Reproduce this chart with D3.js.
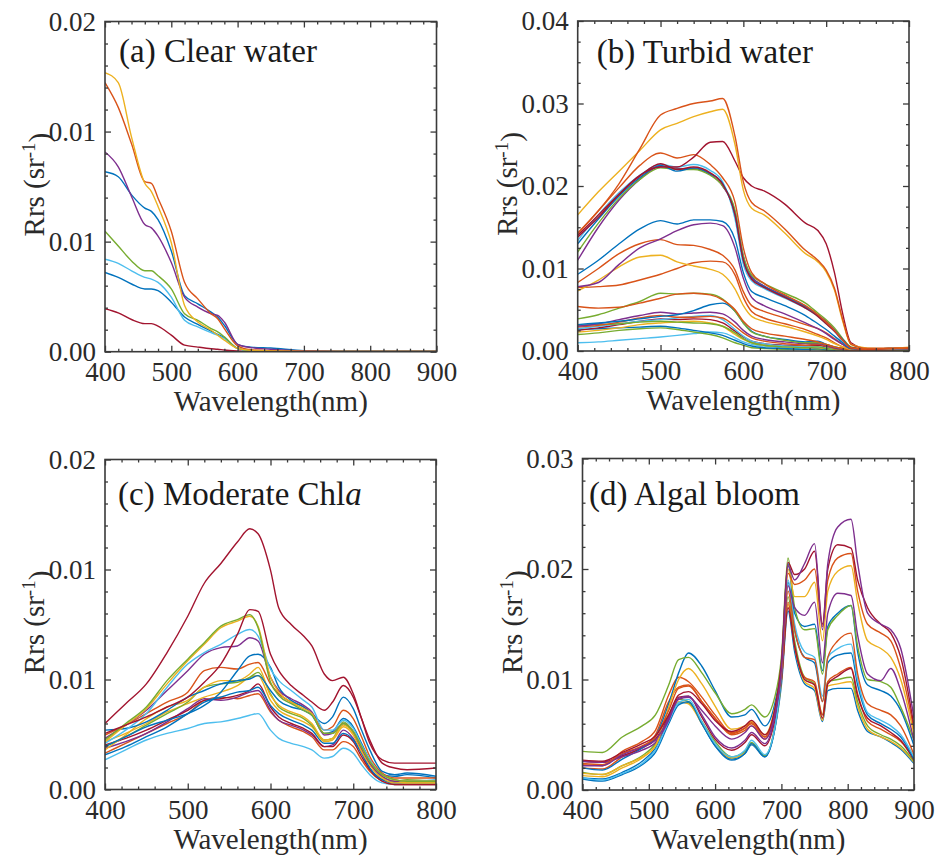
<!DOCTYPE html>
<html>
<head>
<meta charset="utf-8">
<script src="https://cdn.jsdelivr.net/npm/d3@7"></script>
<style>
  body { margin: 0; background: #fff; }
  svg { font-family: "Liberation Serif", "Times New Roman", serif; }
  .tick text { fill: #2a2a2a; font-size: 27px; }
  .tick line { stroke: #3a3a3a; stroke-width: 1.3; }
</style>
</head>
<body>
<svg id="chart"></svg>
<script>
// Rrs values are in units of 10^-3 sr^-1

// MATLAB default line colours
const cBlue = "#0072BD", cOrange = "#D95319", cYellow = "#EDB120", cPurple = "#7E2F8E",
      cGreen = "#77AC30", cCyan = "#4DBEEE", cCrimson = "#A2142F";

// (a) Clear water
const wlA = [400,420,440,460,470,480,500,520,540,560,570,580,600,620,650,700,750,800,850,900];
const colA = [cCrimson, cBlue, cCyan, cGreen, cBlue, cPurple, cOrange, cYellow];
const rrsA = [
  [2.6,2.35,1.95,1.7,1.7,1.55,1.0,0.4,0.28,0.18,0.15,0.1,0.05,0.03,0.02,0.01,0.01,0.01,0.01,0.01],
  [4.8,4.5,4.1,3.8,3.8,3.7,3.0,2.1,1.65,1.25,1.05,0.85,0.2,0.06,0.03,0.02,0.01,0.01,0.01,0.02],
  [5.6,5.35,4.9,4.5,4.4,4.2,3.3,1.9,1.5,1.15,1.0,0.8,0.2,0.05,0.03,0.01,0.01,0.01,0.01,0.01],
  [7.3,6.4,5.5,4.9,4.9,4.6,3.8,2.3,1.9,1.4,1.2,0.9,0.2,0.06,0.03,0.01,0.01,0.01,0.01,0.01],
  [10.9,10.6,9.5,8.7,8.5,8.0,6.1,3.4,2.9,2.4,2.1,1.6,0.45,0.28,0.22,0.06,0.02,0.02,0.02,0.02],
  [12.1,11.2,9.4,7.7,7.5,7.0,5.4,3.3,2.7,2.3,2.2,1.8,0.45,0.25,0.15,0.04,0.02,0.02,0.01,0.01],
  [16.3,14.8,12.6,10.3,10.2,9.3,7.3,4.2,3.2,2.3,2.0,1.4,0.35,0.12,0.06,0.03,0.02,0.02,0.01,0.01],
  [16.9,16.3,13.0,10.2,9.7,8.8,6.6,2.8,1.8,1.3,1.0,0.7,0.2,0.08,0.05,0.02,0.01,0.01,0.01,0.01]
];

// (b) Turbid water
const wlB = [400,425,450,475,500,520,540,560,575,590,600,610,625,650,675,690,700,710,720,730,750,775,800];
const colB = [cCyan, cGreen, cBlue, cYellow, cCrimson, cCyan, cGreen, cOrange, cPurple, cBlue, cGreen, cOrange,
              cOrange, cYellow, cOrange, cPurple, cBlue, cPurple, cGreen, cCyan, cBlue, cCrimson, cOrange, cCrimson, cYellow, cOrange];
const rrsB = [
  [1.0,1.1,1.3,1.5,1.7,1.9,2.1,2.3,2.2,1.6,1.1,0.8,0.6,0.4,0.3,0.3,0.2,0.1,0.1,0.1,0.1,0.1,0.1],
  [2.0,2.2,2.5,2.7,2.8,2.6,2.3,2.0,1.6,1.0,0.7,0.4,0.3,0.2,0.2,0.2,0.1,0.1,0.1,0.1,0.1,0.1,0.1],
  [2.6,2.7,2.8,2.9,3.0,2.8,2.5,2.2,1.9,1.3,0.9,0.6,0.4,0.3,0.2,0.3,0.2,0.1,0.1,0.1,0.1,0.1,0.1],
  [2.3,2.5,2.8,3.2,3.4,3.5,3.6,3.4,3.0,2.0,1.4,1.0,0.7,0.5,0.4,0.4,0.3,0.2,0.1,0.1,0.1,0.1,0.1],
  [2.5,2.8,3.2,3.6,3.9,3.8,3.9,3.8,3.4,2.4,1.7,1.2,0.9,0.7,0.6,0.7,0.5,0.3,0.1,0.1,0.1,0.1,0.1],
  [2.7,3.0,3.3,3.6,3.8,4.0,4.2,4.3,3.8,2.6,1.8,1.2,0.9,0.6,0.5,0.5,0.4,0.2,0.1,0.1,0.1,0.1,0.1],
  [3.1,3.2,3.3,3.5,3.6,3.5,3.4,3.3,3.0,2.2,1.5,1.0,0.7,0.5,0.4,0.5,0.3,0.2,0.1,0.1,0.1,0.1,0.1],
  [2.9,3.1,3.5,4.0,4.3,4.1,4.1,4.2,4.0,3.0,2.2,1.6,1.2,0.9,0.7,0.8,0.6,0.3,0.2,0.1,0.1,0.1,0.1],
  [3.0,3.3,3.8,4.3,4.7,4.5,4.6,4.7,4.5,3.5,2.5,1.8,1.4,1.1,0.9,0.9,0.7,0.4,0.2,0.1,0.1,0.1,0.1],
  [3.2,3.4,3.6,3.9,4.2,4.4,4.9,5.6,5.8,4.8,3.4,2.4,1.8,1.4,1.1,1.2,0.8,0.5,0.3,0.1,0.1,0.1,0.1],
  [3.9,4.4,5.2,6.0,7.0,6.9,7.0,6.9,6.3,4.8,3.4,2.3,1.8,1.3,1.0,1.0,0.8,0.5,0.3,0.1,0.1,0.1,0.1],
  [5.4,5.2,5.3,5.8,6.4,6.9,7.0,6.8,6.2,5.0,3.6,2.7,2.2,1.8,1.4,1.1,0.8,0.5,0.3,0.1,0.1,0.1,0.2],
  [7.7,7.8,8.0,8.6,9.3,10.0,10.7,10.9,10.8,9.2,6.5,4.8,4.0,3.3,2.6,2.0,1.6,1.0,0.5,0.2,0.1,0.2,0.2],
  [7.3,8.6,10.2,11.4,11.6,10.8,10.3,9.9,9.3,7.5,5.5,4.2,3.6,3.0,2.3,1.8,1.4,0.9,0.5,0.2,0.2,0.2,0.2],
  [8.3,10.0,11.8,13.0,13.5,12.9,12.8,12.3,11.6,9.8,7.2,5.5,4.8,4.0,3.2,2.7,2.2,1.5,0.8,0.3,0.2,0.2,0.2],
  [7.8,8.3,10.5,12.5,13.6,14.6,15.3,15.5,15.2,12.5,8.8,6.5,5.5,4.5,3.4,2.7,2.1,1.4,0.8,0.3,0.2,0.2,0.2],
  [9.3,11.0,13.0,14.8,15.8,15.4,15.9,15.9,15.7,13.5,9.5,7.2,6.5,5.5,4.3,3.3,2.6,1.8,1.0,0.3,0.2,0.2,0.3],
  [11.0,15.0,18.3,20.8,22.4,22.1,22.1,21.4,20.0,16.8,11.5,9.0,7.9,6.7,5.4,4.4,3.6,2.6,1.4,0.4,0.2,0.2,0.3],
  [12.0,15.5,18.5,20.8,22.2,22.0,22.0,21.3,20.0,17.0,11.5,9.2,8.2,7.0,5.8,4.6,3.8,2.8,1.5,0.5,0.2,0.3,0.3],
  [13.4,16.5,19.2,21.3,22.6,22.3,22.6,21.9,20.5,16.0,10.5,8.5,7.6,6.4,5.2,4.2,3.3,2.4,1.2,0.4,0.2,0.2,0.3],
  [13.0,16.0,18.8,21.0,22.5,21.8,22.2,21.5,20.3,16.5,11.0,8.8,7.8,6.6,5.3,4.3,3.4,2.5,1.4,0.4,0.2,0.3,0.3],
  [13.8,16.2,19.0,21.2,22.7,22.0,22.3,21.6,20.2,16.5,11.0,8.7,7.7,6.5,5.2,4.2,3.3,2.4,1.3,0.4,0.2,0.3,0.3],
  [14.2,17.0,19.8,22.5,24.0,23.4,23.8,22.6,21.0,18.0,12.5,9.5,8.2,6.8,5.5,4.4,3.5,2.5,1.3,0.4,0.2,0.3,0.3],
  [14.0,16.5,19.0,21.3,22.3,22.3,23.5,25.3,25.4,23.0,21.0,20.0,19.4,17.8,15.5,14.6,13.0,9.5,4.5,1.0,0.3,0.3,0.4],
  [16.5,19.3,21.8,24.3,26.8,27.6,28.4,29.0,29.3,25.0,19.5,17.3,16.5,14.3,11.8,10.8,9.6,7.4,3.6,0.8,0.35,0.3,0.45],
  [14.3,17.0,20.3,24.5,28.6,29.4,30.0,30.3,30.6,26.0,20.5,18.0,17.0,14.8,12.2,11.0,9.8,7.6,3.8,0.8,0.3,0.3,0.4]
];

// (c) Moderate Chla
const wlC = [400,425,450,475,500,520,540,560,575,585,600,610,625,640,650,665,675,688,700,710,720,735,750,765,800];
const colC = [cCyan, cOrange, cPurple, cCrimson, cBlue, cYellow, cGreen, cYellow, cBlue, cOrange,
              cBlue, cPurple, cCyan, cYellow, cGreen, cCrimson, cCrimson];
const rrsC = [
  [1.8,2.4,3.0,3.4,3.7,4.0,4.1,4.3,4.5,4.6,3.6,3.1,2.8,2.6,2.4,1.9,2.0,2.5,2.2,1.5,0.9,0.4,0.3,0.3,0.3],
  [2.2,2.8,3.4,4.0,4.6,5.4,5.6,5.5,5.7,5.8,4.7,4.2,3.8,3.5,3.2,2.4,2.4,2.9,2.6,1.8,1.1,0.5,0.3,0.3,0.3],
  [2.5,2.9,3.4,4.1,4.9,5.5,5.4,5.6,5.9,6.0,4.8,4.2,3.9,3.6,3.3,2.6,2.7,3.6,3.1,2.2,1.3,0.6,0.4,0.4,0.4],
  [2.7,3.1,3.6,4.2,4.8,5.4,5.5,5.7,6.0,6.4,5.0,4.4,4.0,3.7,3.4,2.6,2.6,3.3,2.9,2.0,1.2,0.5,0.3,0.3,0.3],
  [2.1,2.6,3.2,3.8,4.6,5.3,5.6,5.9,6.0,6.2,5.1,4.6,4.2,3.9,3.6,2.8,2.8,3.4,3.0,2.2,1.3,0.6,0.4,0.4,0.4],
  [2.9,3.4,4.0,4.7,5.2,5.6,5.9,6.3,6.8,6.9,5.4,4.8,4.4,4.1,3.8,2.9,3.0,3.8,3.3,2.3,1.5,0.7,0.4,0.4,0.4],
  [2.6,3.2,3.9,4.6,5.3,6.2,6.4,6.5,6.8,7.1,5.8,5.0,4.6,4.3,3.9,3.0,3.1,4.1,3.5,2.5,1.6,0.8,0.5,0.6,0.5],
  [2.4,3.3,4.3,5.0,5.4,6.2,6.6,6.6,7.0,7.4,5.7,5.1,4.7,4.4,4.0,3.0,3.1,3.9,3.4,2.4,1.5,0.7,0.5,0.4,0.4],
  [3.6,3.7,4.1,4.8,5.6,6.0,6.4,6.6,6.7,6.9,6.0,5.4,5.0,4.8,4.5,3.4,3.5,4.3,3.8,2.8,1.8,0.9,0.8,0.9,0.7],
  [3.3,3.9,4.6,5.3,5.9,7.2,7.4,7.3,7.6,7.7,6.4,5.8,5.3,5.0,4.6,3.6,3.8,4.8,4.3,3.2,2.0,1.0,0.7,0.7,0.7],
  [2.6,3.2,3.8,4.2,4.6,5.1,5.9,7.2,8.1,8.2,7.4,6.2,5.4,5.0,4.6,4.0,4.4,5.6,4.9,3.6,2.4,1.1,0.9,1.0,0.8],
  [3.1,3.9,4.8,6.0,7.2,8.2,8.6,8.7,9.2,9.0,6.8,6.0,5.5,5.1,4.7,3.3,3.4,4.0,3.5,2.5,1.6,0.8,0.5,0.5,0.5],
  [2.8,3.6,4.6,6.2,7.6,8.3,8.8,9.4,9.7,9.3,7.3,6.6,6.0,5.4,5.0,3.6,3.6,4.2,3.7,2.7,1.8,0.9,0.6,0.5,0.6],
  [2.9,3.9,4.9,6.4,7.8,8.8,9.8,10.2,10.5,9.9,6.8,5.9,5.3,4.9,4.6,3.4,3.4,4.0,3.5,2.6,1.7,0.9,0.6,0.5,0.5],
  [3.0,4.0,5.0,6.6,7.9,8.9,9.9,10.3,10.6,9.8,6.5,5.7,5.2,4.8,4.5,3.4,3.4,4.0,3.5,2.6,1.7,0.9,0.6,0.5,0.5],
  [3.4,3.9,4.4,5.0,5.6,6.5,7.6,9.4,10.9,10.8,8.2,7.2,6.3,5.7,5.3,4.8,5.3,6.3,5.6,4.3,3.0,1.6,1.3,1.2,1.3],
  [4.0,5.2,6.4,8.3,10.5,12.5,13.7,15.0,15.8,15.5,13.3,11.0,10.0,9.3,8.7,7.0,6.6,6.8,5.8,4.3,2.8,1.8,1.6,1.6,1.6]
];

// (d) Algal bloom
const wlD = [400,430,460,490,510,530,545,560,580,600,625,645,655,675,690,700,710,720,735,750,762,770,785,805,815,830,850,865,880,900];
const colD = [cBlue, cYellow, cGreen, cOrange, cCrimson, cBlue, cCyan, cOrange, cBlue, cGreen, cPurple, cYellow, cOrange, cCrimson, cPurple];
const rrsD = [
  [1.1,1.0,1.6,2.6,3.8,6.4,7.9,7.9,6.0,4.0,2.8,3.3,4.1,3.0,5.5,9.5,16.2,12.5,9.6,9.0,6.2,9.0,9.2,9.2,7.2,5.3,4.8,4.3,3.7,2.4],
  [1.3,1.2,2.0,2.9,4.0,6.6,8.0,7.8,6.0,4.2,2.9,3.4,4.2,3.1,5.6,9.8,16.8,13.0,9.8,9.2,6.3,9.4,9.6,9.8,7.6,5.5,4.8,4.4,3.8,2.5],
  [1.6,1.4,2.2,3.1,4.2,6.8,8.2,8.0,6.2,4.4,3.0,3.5,4.3,3.1,5.7,10.0,17.5,13.5,10.2,9.6,6.8,9.8,10.0,10.2,8.0,5.8,5.0,4.6,4.0,2.6],
  [2.0,1.9,3.0,3.9,5.0,8.0,9.3,9.5,8.0,6.5,5.0,5.4,5.8,4.6,6.8,10.0,17.0,13.0,10.2,9.8,6.8,9.8,10.5,11.1,8.7,6.2,5.5,5.0,4.4,2.8],
  [2.6,2.5,3.1,3.8,4.6,6.6,8.4,8.5,6.6,4.6,3.6,4.3,5.0,4.0,6.3,10.0,16.5,13.0,10.0,9.5,6.5,9.6,10.3,11.0,8.5,6.5,5.8,5.2,4.5,2.7],
  [1.0,0.8,1.4,2.3,3.4,6.0,7.7,8.0,6.0,4.0,2.7,3.3,4.2,3.0,5.5,10.2,18.8,14.5,12.0,11.5,8.0,11.5,12.2,12.4,9.5,6.8,6.0,5.5,4.8,2.8],
  [1.1,0.9,1.5,2.4,3.6,6.2,7.9,8.2,6.2,4.2,3.0,3.6,4.5,3.2,5.6,10.5,19.0,15.0,12.5,12.0,8.5,12.0,12.8,13.2,10.0,7.0,6.3,5.8,5.0,3.0],
  [2.3,2.2,3.5,4.4,5.4,8.6,10.2,9.8,8.4,6.8,5.2,5.6,6.0,4.8,7.0,10.5,18.0,14.5,12.0,11.8,8.0,12.0,13.5,14.2,10.5,7.8,7.2,6.8,5.8,3.2],
  [2.0,1.8,2.8,3.8,4.8,7.8,10.6,12.4,11.2,9.0,6.6,6.8,7.3,5.8,7.8,11.5,20.5,16.0,14.8,15.0,10.8,14.8,16.0,16.7,12.5,9.5,9.0,8.5,7.2,4.0],
  [3.5,3.4,4.8,5.8,6.8,9.5,11.8,12.0,10.6,8.8,6.9,7.3,7.7,6.6,8.4,12.0,21.0,16.5,14.5,14.6,10.5,14.5,15.8,16.7,13.0,10.0,9.8,9.3,7.5,4.5],
  [2.6,2.5,3.0,3.6,4.3,6.3,8.3,8.5,6.8,4.8,3.8,4.5,5.2,4.2,6.6,10.5,18.5,16.5,15.8,17.0,11.5,16.0,17.8,17.6,14.0,10.5,9.9,11.0,9.0,4.5],
  [1.5,1.4,2.2,3.0,4.0,7.5,10.0,11.0,9.6,7.6,5.5,5.8,6.2,5.0,7.4,11.0,20.0,17.5,17.5,18.8,13.5,18.0,19.8,20.3,17.0,13.5,12.8,12.0,10.0,5.0],
  [2.4,2.3,3.3,4.0,4.8,7.2,9.2,9.4,8.0,6.5,5.1,5.6,6.1,4.8,7.2,11.0,19.6,18.6,19.0,20.0,14.8,19.0,21.0,21.4,18.0,15.0,14.2,13.5,11.0,5.5],
  [2.7,2.6,3.4,4.2,4.9,6.8,8.6,8.9,7.8,6.3,5.3,5.8,6.3,5.0,7.3,11.5,20.6,19.5,20.0,21.6,15.0,20.0,22.2,21.9,19.0,16.5,15.0,14.2,12.0,5.8],
  [2.2,2.2,3.2,3.9,4.5,6.5,8.2,8.4,7.2,5.8,4.6,5.2,5.8,4.6,6.8,11.0,20.3,19.0,20.5,22.3,14.5,20.5,23.8,24.5,20.5,16.0,15.0,14.5,12.8,6.5]
];

// panel layout (pixel boxes) and axes settings
const panels = [
  {wl: wlA, rrs: rrsA, col: colA, xMax: 900, yMax: 20, yDiv: 3, yMinor: 5,
   box: {l: 105, r: 436.5, t: 21.5, b: 351.7}, title: ["(a) Clear water"], tx: 14, ty: 40.5},
  {wl: wlB, rrs: rrsB, col: colB, xMax: 800, yMax: 40, yDiv: 4, yMinor: 4,
   box: {l: 577.7, r: 909, t: 21, b: 351}, title: ["(b) Turbid water"], tx: 19, ty: 42},
  {wl: wlC, rrs: rrsC, col: colC, xMax: 800, yMax: 20, yDiv: 3, yMinor: 5,
   box: {l: 105, r: 436, t: 459.5, b: 789.5}, title: ["(c) Moderate Chl", "a"], tx: 13, ty: 45.5},
  {wl: wlD, rrs: rrsD, col: colD, xMax: 900, yMax: 30, yDiv: 3, yMinor: 5,
   box: {l: 582.5, r: 914, t: 458.5, b: 790}, title: ["(d) Algal bloom"], tx: 6.5, ty: 46.5}
];

const svg = d3.select("#chart").attr("width", 936).attr("height", 861);

panels.forEach((p, pi) => {
  const b = p.box;
  const x = d3.scaleLinear().domain([400, p.xMax]).range([b.l, b.r]);
  const y = d3.scaleLinear().domain([0, p.yMax]).range([b.b, b.t]);
  const g = svg.append("g");

  const clipId = "clip" + pi;
  g.append("clipPath").attr("id", clipId)
    .append("rect").attr("x", b.l).attr("y", b.t).attr("width", b.r - b.l).attr("height", b.b - b.t);

  // spectra
  const line = d3.line()
    .x((d, i) => x(p.wl[i]))
    .y(d => y(d))
    .curve(d3.curveMonotoneX);
  g.append("g").attr("clip-path", `url(#${clipId})`)
    .selectAll("path")
    .data(p.rrs)
    .join("path")
    .attr("d", line)
    .attr("fill", "none")
    .attr("stroke", (d, i) => p.col[i % p.col.length])
    .attr("stroke-width", 1.4);

  // ticks
  const xMajor = d3.range(400, p.xMax + 1, 100);
  const xMinor = d3.range(400, p.xMax + 1, 20).filter(v => v % 100 !== 0);
  const yMajor = d3.range(p.yDiv + 1).map(i => p.yMax * i / p.yDiv);
  const yMinor = d3.range(p.yDiv * p.yMinor + 1).filter(i => i % p.yMinor !== 0)
    .map(i => p.yMax * i / (p.yDiv * p.yMinor));
  const fmtY = d => (d / 1000).toFixed(2);

  const addAxis = (axis, tx, ty) => {
    g.append("g").attr("transform", `translate(${tx},${ty})`)
      .call(axis)
      .call(a => a.select(".domain").remove());
  };
  addAxis(d3.axisBottom(x).tickValues(xMajor).tickSize(-6).tickPadding(10).tickFormat(d3.format("d")), 0, b.b);
  addAxis(d3.axisBottom(x).tickValues(xMinor).tickSize(-3).tickFormat(""), 0, b.b);
  addAxis(d3.axisTop(x).tickValues(xMajor).tickSize(-6).tickFormat(""), 0, b.t);
  addAxis(d3.axisTop(x).tickValues(xMinor).tickSize(-3).tickFormat(""), 0, b.t);
  addAxis(d3.axisLeft(y).tickValues(yMajor).tickSize(-6).tickPadding(9).tickFormat(fmtY), b.l, 0);
  addAxis(d3.axisLeft(y).tickValues(yMinor).tickSize(-3).tickFormat(""), b.l, 0);
  addAxis(d3.axisRight(y).tickValues(yMajor).tickSize(-6).tickFormat(""), b.r, 0);
  addAxis(d3.axisRight(y).tickValues(yMinor).tickSize(-3).tickFormat(""), b.r, 0);
  g.selectAll(".tick text").style("font-family", "'Liberation Serif', serif");

  // frame
  g.append("rect")
    .attr("x", b.l).attr("y", b.t)
    .attr("width", b.r - b.l).attr("height", b.b - b.t)
    .attr("fill", "none").attr("stroke", "#3a3a3a").attr("stroke-width", 1.6);

  // panel title
  const t = g.append("text")
    .attr("x", b.l + p.tx).attr("y", b.t + p.ty)
    .attr("fill", "#1a1a1a").style("font-size", "33px")
    .text(p.title[0]);
  if (p.title[1]) t.append("tspan").style("font-style", "italic").text(p.title[1]);

  // axis titles
  g.append("text")
    .attr("x", (b.l + b.r) / 2).attr("y", b.b + 59)
    .attr("text-anchor", "middle").attr("fill", "#2a2a2a").style("font-size", "29px")
    .text("Wavelength(nm)");

  const yt = g.append("text")
    .attr("transform", `translate(${b.l - 61},${(b.t + b.b) / 2 - 2}) rotate(-90)`)
    .attr("text-anchor", "middle").attr("fill", "#2a2a2a").style("font-size", "29px");
  yt.append("tspan").text("Rrs (sr");
  yt.append("tspan").attr("dy", "-0.45em").style("font-size", "19px").text("-1");
  yt.append("tspan").attr("dy", "0.45em").text(")");
});
</script>
</body>
</html>
